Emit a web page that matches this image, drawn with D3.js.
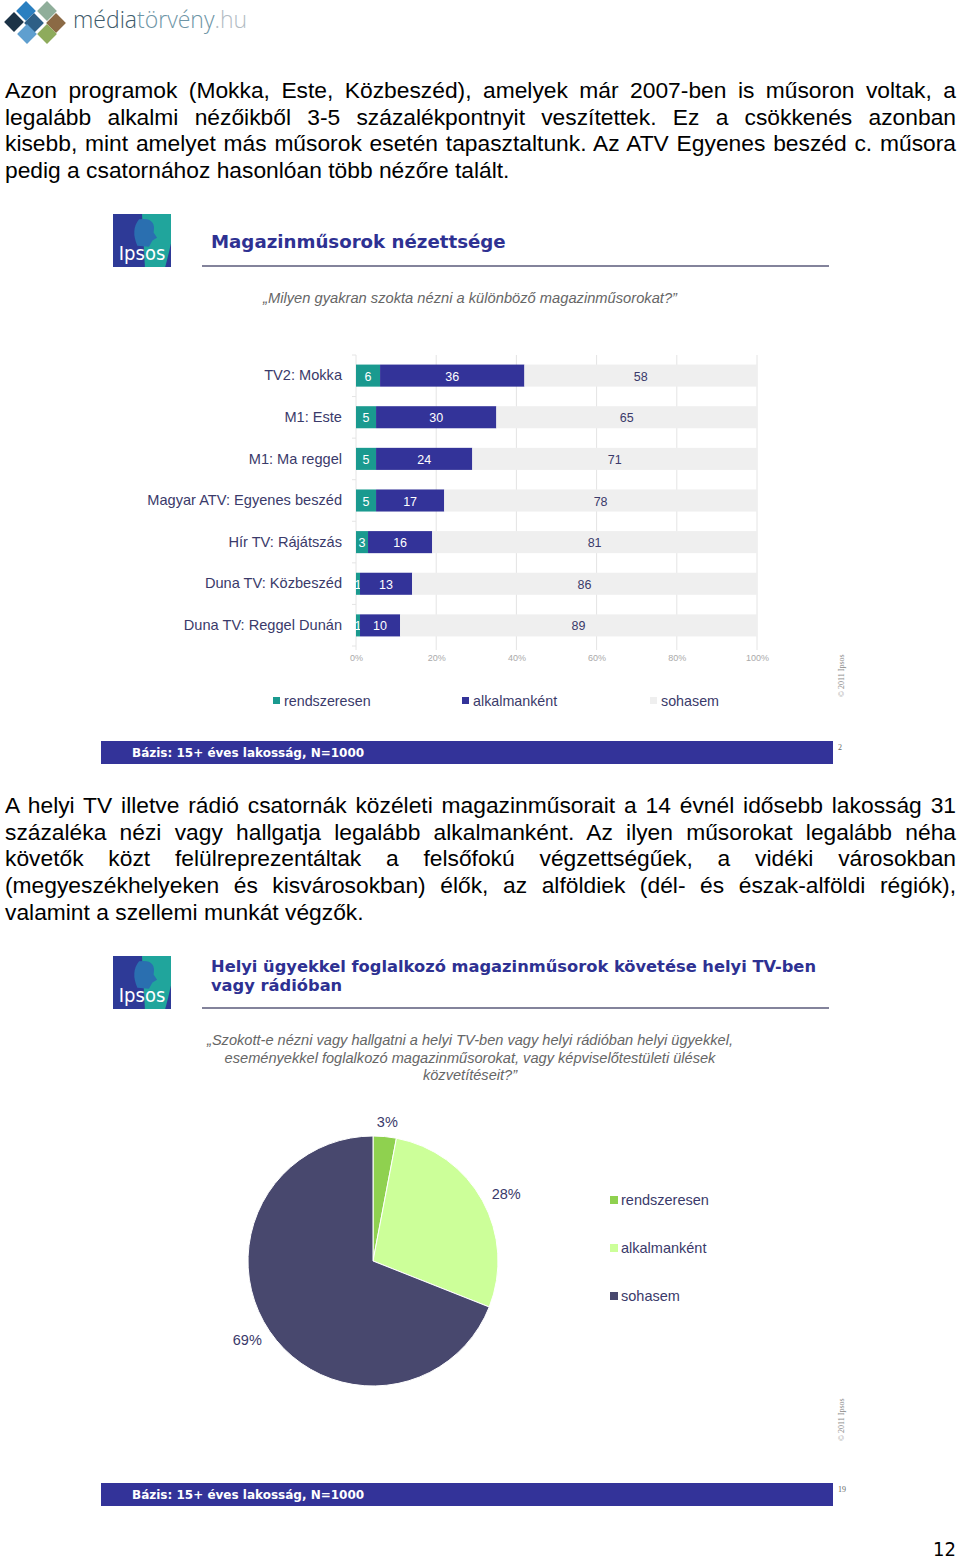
<!DOCTYPE html>
<html>
<head>
<meta charset="utf-8">
<script src="https://cdn.jsdelivr.net/npm/d3@7"></script>
<style>
body { margin: 0; background: #fff; width: 960px; height: 1561px; position: relative; overflow: hidden; }
.para { position: absolute; left: 5px; width: 951px; font-family: "Liberation Sans", Arial, sans-serif; font-size: 22.8px; line-height: 26.7px; color: #000; }
.para div { text-align: justify; text-align-last: justify; white-space: nowrap; }
.para div.last { text-align-last: left; }
svg { position: absolute; left: 0; top: 0; }
</style>
</head>
<body>
<script>
var width = 960;
var height = 1561;

// texts
var para1 = [
  "Azon programok (Mokka, Este, Közbeszéd), amelyek már 2007-ben is műsoron voltak, a",
  "legalább alkalmi nézőikből 3-5 százalékpontnyit veszítettek. Ez a csökkenés azonban",
  "kisebb, mint amelyet más műsorok esetén tapasztaltunk. Az ATV Egyenes beszéd c. műsora",
  "pedig a csatornához hasonlóan több nézőre talált."
];
var para2 = [
  "A helyi TV illetve rádió csatornák közéleti magazinműsorait a 14 évnél idősebb lakosság 31",
  "százaléka nézi vagy hallgatja legalább alkalmanként. Az ilyen műsorokat legalább néha",
  "követők közt felülreprezentáltak a felsőfokú végzettségűek, a vidéki városokban",
  "(megyeszékhelyeken és kisvárosokban) élők, az alföldiek (dél- és észak-alföldi régiók),",
  "valamint a szellemi munkát végzők."
];

// bar chart data
var programs = ["TV2: Mokka", "M1: Este", "M1: Ma reggel", "Magyar ATV: Egyenes beszéd",
  "Hír TV: Rájátszás", "Duna TV: Közbeszéd", "Duna TV: Reggel Dunán"];
var rendszeresen = [6, 5, 5, 5, 3, 1, 1];
var alkalmankent = [36, 30, 24, 17, 16, 13, 10];
var sohasem = [58, 65, 71, 78, 81, 86, 89];
var barSeries = ["rendszeresen", "alkalmanként", "sohasem"];
var barTicks = [0, 20, 40, 60, 80, 100];

// pie data
var pieLabels = ["rendszeresen", "alkalmanként", "sohasem"];
var pieValues = [3, 28, 69];

var navy = "#333399";
var textNavy = "#3a3a6a";

function addPara(lines, top) {
  var p = d3.select("body").append("div").attr("class", "para").style("top", top + "px");
  p.selectAll("div").data(lines).enter().append("div")
    .attr("class", function(d, i) { return i === lines.length - 1 ? "last" : null; })
    .text(function(d) { return d; });
}
addPara(para1, 77);
addPara(para2, 792);

var svg = d3.select("body").append("svg")
  .attr("width", width)
  .attr("height", height)
  .style("font-family", "'Liberation Sans', Arial, sans-serif");

// site logo
var logo = svg.append("g");
var diamonds = [
  {x: 14, y: 22, c: "#1c3347"}, {x: 26, y: 11, c: "#2a7fc0"}, {x: 34, y: 23, c: "#2d5f86"},
  {x: 27, y: 34, c: "#5f9fcf"}, {x: 47, y: 11, c: "#8fae9a"}, {x: 56, y: 23, c: "#8b6a45"},
  {x: 47, y: 34, c: "#8eab5c"}
];
logo.selectAll("rect").data(diamonds).enter().append("rect")
  .attr("x", -7).attr("y", -7).attr("width", 14).attr("height", 14)
  .attr("fill", function(d) { return d.c; })
  .attr("transform", function(d) { return "translate(" + d.x + "," + d.y + ") rotate(45)"; });
var lt = logo.append("text").attr("x", 73).attr("y", 28)
  .style("font-family", "'Open Sans', sans-serif").style("font-weight", 300).style("font-size", "23px");
lt.append("tspan").attr("fill", "#3e5b6b").text("média");
lt.append("tspan").attr("fill", "#6e95a6").text("törvény");
lt.append("tspan").attr("fill", "#b3bcc4").text(".hu");

function ipsosLogo(x, y, w, h) {
  var g = svg.append("g").attr("transform", "translate(" + x + "," + y + ")");
  g.append("rect").attr("width", w).attr("height", h).attr("fill", "#2e3a97");
  g.append("path").attr("fill", "#20a59c")
    .attr("d", "M" + (w * 0.5) + ",0 L" + w + ",0 L" + w + "," + (h * 0.55) +
      " Q" + (w * 0.95) + "," + (h * 0.8) + " " + (w * 0.9) + "," + h + " L" + (w * 0.55) + "," + h + " Z");
  g.append("path").attr("fill", "#2a6fb0")
    .attr("d", "M" + (w * 0.45) + "," + (h * 0.1) + " Q" + (w * 0.75) + "," + (h * 0.05) + " " + (w * 0.7) + "," + (h * 0.35) +
      " L" + (w * 0.76) + "," + (h * 0.45) + " L" + (w * 0.68) + "," + (h * 0.5) + " L" + (w * 0.62) + "," + (h * 0.62) +
      " L" + (w * 0.42) + "," + (h * 0.6) + " Q" + (w * 0.3) + "," + (h * 0.3) + " " + (w * 0.45) + "," + (h * 0.1) + " Z");
  g.append("text").attr("x", w * 0.1).attr("y", h * 0.87).attr("fill", "#fff")
    .style("font-family", "'Liberation Sans Narrow', 'DejaVu Sans Condensed', sans-serif")
    .style("font-size", "20px").text("Ipsos");
}

function header(y, logoY, titleLines, titleSize, subLines, subY, subSize) {
  ipsosLogo(113, logoY, 58, 53);
  svg.append("g").selectAll("text").data(titleLines).enter().append("text")
    .attr("x", 211).attr("y", function(d, i) { return y + i * 19; })
    .attr("fill", "#2e3192").style("font-weight", "bold").style("font-size", titleSize + "px")
    .style("font-family", "'DejaVu Sans', sans-serif")
    .text(function(d) { return d; });
  svg.append("line").attr("x1", 202).attr("x2", 829)
    .attr("y1", logoY + 52).attr("y2", logoY + 52).attr("stroke", "#5a5a7a").attr("stroke-width", 1.3);
  svg.append("g").selectAll("text").data(subLines).enter().append("text")
    .attr("x", 470).attr("y", function(d, i) { return subY + i * 17.5; })
    .attr("text-anchor", "middle").attr("fill", "#666").style("font-style", "italic")
    .style("font-size", subSize + "px").text(function(d) { return d; });
}

function footer(y, page, copyY) {
  svg.append("rect").attr("x", 101).attr("y", y).attr("width", 732).attr("height", 23).attr("fill", navy);
  svg.append("text").attr("x", 132).attr("y", y + 16).attr("fill", "#fff")
    .style("font-family", "'DejaVu Sans', sans-serif")
    .style("font-weight", "bold").style("font-size", "12px").text("Bázis: 15+ éves lakosság, N=1000");
  svg.append("text").attr("x", 838).attr("y", y + 9).attr("fill", "#666")
    .style("font-family", "'Liberation Serif', serif").style("font-size", "8px").text(page);
  svg.append("text").attr("transform", "translate(844," + copyY + ") rotate(-90)")
    .attr("fill", "#888").style("font-family", "'Liberation Serif', serif").style("font-size", "8px")
    .text("© 2011 Ipsos");
}

// ---- chart 1 ----
header(248, 214, ["Magazinműsorok nézettsége"], 18.2,
  ["„Milyen gyakran szokta nézni a különböző magazinműsorokat?”"], 303, 14.7);

var xScale = d3.scaleLinear().domain([0, 100]).range([356, 757]);
var yScale = d3.scaleBand().domain(programs).range([355, 646]).paddingInner(0.47).paddingOuter(0.23);

var barData = programs.map(function(p, i) {
  return {program: p, rendszeresen: rendszeresen[i], "alkalmanként": alkalmankent[i], sohasem: sohasem[i]};
});
var stack = d3.stack().keys(barSeries)(barData);
var barColors = d3.scaleOrdinal().domain(barSeries).range(["#1a9a8f", navy, "#efefef"]);
var labelColors = d3.scaleOrdinal().domain(barSeries).range(["#fff", "#fff", "#3a3a6a"]);

// grid
svg.append("g").selectAll("line").data(barTicks).enter().append("line")
  .attr("x1", function(d) { return xScale(d); }).attr("x2", function(d) { return xScale(d); })
  .attr("y1", 355).attr("y2", 650).attr("stroke", "#e4e4e4").attr("stroke-width", 1);
svg.append("g").selectAll("line").data(d3.range(programs.length + 1)).enter().append("line")
  .attr("x1", 352).attr("x2", 356)
  .attr("y1", function(d) { return 355 + d * (291 / programs.length); })
  .attr("y2", function(d) { return 355 + d * (291 / programs.length); })
  .attr("stroke", "#e4e4e4");

var layers = svg.append("g").selectAll("g").data(stack).enter().append("g")
  .attr("fill", function(d) { return barColors(d.key); });
layers.selectAll("rect").data(function(d) { return d; }).enter().append("rect")
  .attr("x", function(d) { return xScale(d[0]); })
  .attr("width", function(d) { return xScale(d[1]) - xScale(d[0]); })
  .attr("y", function(d) { return yScale(d.data.program); })
  .attr("height", yScale.bandwidth());
layers.selectAll("text").data(function(d) { return d.map(function(v) { v.key = d.key; return v; }); })
  .enter().append("text")
  .attr("x", function(d) { return (xScale(d[0]) + xScale(d[1])) / 2; })
  .attr("y", function(d) { return yScale(d.data.program) + yScale.bandwidth() / 2 + 5; })
  .attr("text-anchor", "middle")
  .attr("fill", function(d) { return labelColors(d.key); })
  .style("font-size", "12.5px")
  .text(function(d) { return d[1] - d[0]; });

var yAxis = svg.append("g").attr("transform", "translate(342,0)")
  .call(d3.axisLeft(yScale).tickSize(0).tickPadding(0));
yAxis.select(".domain").remove();
yAxis.selectAll("text").attr("fill", textNavy).style("font-size", "14.6px")
  .style("font-family", "'Liberation Sans', Arial, sans-serif");

var xAxis = svg.append("g").attr("transform", "translate(0,655)")
  .call(d3.axisBottom(xScale).tickValues(barTicks).tickSize(0).tickPadding(0)
    .tickFormat(function(d) { return d + "%"; }));
xAxis.select(".domain").remove();
xAxis.selectAll("text").attr("fill", "#aaa").style("font-size", "9px")
  .style("font-family", "'Liberation Sans', Arial, sans-serif");

var barLegendX = [273, 462, 650];
var bl = svg.append("g").selectAll("g").data(barSeries).enter().append("g")
  .attr("transform", function(d, i) { return "translate(" + barLegendX[i] + ",697)"; });
bl.append("rect").attr("width", 7).attr("height", 7).attr("fill", function(d) { return barColors(d); });
bl.append("text").attr("x", 11).attr("y", 9).attr("fill", textNavy).style("font-size", "14.3px")
  .text(function(d) { return d; });

footer(741, "2", 697);

// ---- chart 2 ----
header(972, 956, ["Helyi ügyekkel foglalkozó magazinműsorok követése helyi TV-ben", "vagy rádióban"], 16.3,
  ["„Szokott-e nézni vagy hallgatni a helyi TV-ben vagy helyi rádióban helyi ügyekkel,",
   "eseményekkel foglalkozó magazinműsorokat, vagy képviselőtestületi ülések",
   "közvetítéseit?”"], 1045, 14.6);

var pieColors = d3.scaleOrdinal().domain(pieLabels).range(["#8fd14f", "#ccff99", "#48486e"]);
var pie = d3.pie().sort(null)(pieValues);
var arc = d3.arc().innerRadius(0).outerRadius(125);
var pg = svg.append("g").attr("transform", "translate(373,1261)");
pg.selectAll("path").data(pie).enter().append("path")
  .attr("d", arc)
  .attr("fill", function(d, i) { return pieColors(pieLabels[i]); })
  .attr("stroke", "#fff").attr("stroke-width", 1);

var labelArc = d3.arc().innerRadius(140).outerRadius(140);
pg.selectAll("text").data(pie).enter().append("text")
  .attr("transform", function(d) {
    var c = labelArc.centroid(d);
    return "translate(" + (c[0] * 152 / 140) + "," + c[1] + ")";
  })
  .attr("text-anchor", "middle").attr("dy", "0.35em")
  .attr("fill", textNavy).style("font-size", "14.5px")
  .text(function(d) { return d.value + "%"; });

var pl = svg.append("g").selectAll("g").data(pieLabels).enter().append("g")
  .attr("transform", function(d, i) { return "translate(610," + (1196 + i * 48) + ")"; });
pl.append("rect").attr("width", 8).attr("height", 8).attr("fill", function(d) { return pieColors(d); });
pl.append("text").attr("x", 11).attr("y", 9).attr("fill", textNavy).style("font-size", "14.5px")
  .text(function(d) { return d; });

footer(1483, "19", 1441);

svg.append("text").attr("x", 956).attr("y", 1556).attr("text-anchor", "end")
  .style("font-family", "'Liberation Sans Narrow', 'DejaVu Sans Condensed', sans-serif")
  .style("font-size", "20px").attr("fill", "#000").text("12");
</script>
</body>
</html>
